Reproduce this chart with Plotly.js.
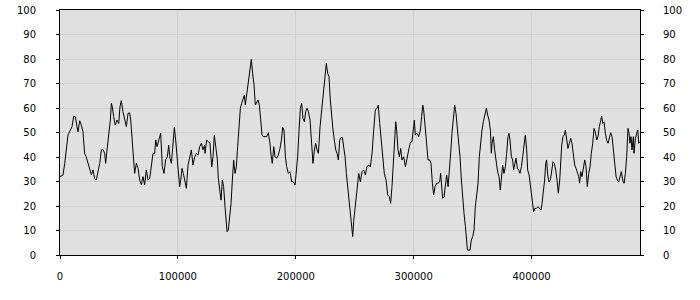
<!DOCTYPE html>
<html>
<head>
<meta charset="utf-8">
<script src="https://cdn.plot.ly/plotly-3.0.1.min.js"></script>
<style>html,body{margin:0;padding:0;background:#fff;}#chart{width:700px;height:300px;}</style>
</head>
<body>
<div id="chart"></div>
<script>
var xTicks = [0, 100000, 200000, 300000, 400000];
var yTicks = [0, 10, 20, 30, 40, 50, 60, 70, 80, 90, 100];

var xValues = [
0,2500,4000,5400,6800,8800,10200,11600,13000,14400,
15300,16700,18100,19500,20900,22300,23800,25200,26600,28000,
29400,30800,32200,33700,35100,36500,37900,38700,39900,41300,
42700,43600,44400,45500,46900,48400,49800,50900,52000,53400,
54900,56300,57700,59100,60000,61100,62200,63300,64800,66200,
67600,69000,70400,71800,73200,74700,76100,77500,78900,80300,
81200,82300,83700,85400,86800,88200,89600,91100,92200,93300,
94500,95600,97000,98100,99300,100700,101500,102400,103500,104600,
105800,107200,108600,110000,111400,112800,114300,115700,117100,118500,
119900,121300,122700,
123000,124400,125800,127200,128700,129800,130900,132100,133500,134300,
135700,136600,137700,138800,140000,140800,141700,142800,143900,145100,
146200,147300,148500,149600,150700,151800,153000,154100,155200,156400,
157200,158400,159800,160900,162300,163400,164600,165700,166800,168000,
169100,170200,171400,172500,173900,175300,176700,178100,179000,180100,
181300,182400,183800,185200,186600,187800,188900,190000,191200,192300,
193700,195100,196500,197900,199400,200500,201600,202800,203900,205000,
206100,207300,208400,209500,210700,212100,213500,214600,215800,216900,
218000,219200,220600,222000,223400,224800,225900,227100,228200,229300,
230500,231600,232700,233900,235000,236100,237300,238400,239500,240600,
241800,242900,244000,245200,246300,247400,248300,
249100,250500,251900,253400,254800,256200,257600,259000,260400,261800,
263300,264700,266100,267500,268900,270000,271200,272300,273700,275100,
276600,278000,279400,280500,281600,282800,283900,284800,285600,286700,
287900,289000,290100,291500,293000,294400,295800,297200,298600,300000,
300600,301400,302900,304300,305700,306800,307700,308500,309900,311100,
312200,313600,314700,315900,317000,318100,319300,320700,322100,322900,
323800,324600,325800,326900,328000,329200,330300,331400,332500,333700,
334800,335900,337100,338200,339300,340500,341600,342700,343900,344700,
345600,346700,347800,348900,350100,351200,352300,353500,354600,355700,
356900,358000,359100,360300,361700,362800,363900,365100,365900,366500,
367600,368700,369900,371000,
371600,372400,373500,374400,375500,376600,377800,378900,380000,380900,
381700,382900,384000,384800,385700,386800,388000,389100,390200,391400,
392500,393600,394700,395900,396700,397900,399000,400100,401000,401800,
402700,404100,405500,406900,408000,408900,410000,411100,412000,412800,
413700,414800,416000,417100,418200,419300,420500,421600,422700,423900,
424700,425600,426700,427800,428700,429800,430900,432100,433200,434300,
435500,436600,437700,438900,440000,440800,441700,442800,444000,445100,
446200,447300,448500,449600,450700,451900,453000,454100,455300,456400,
457500,458700,459500,460400,461500,462600,463700,464900,466000,467100,
468300,469400,470500,471700,472800,473900,475100,476200,477300,478500,
479600,480700,481800,482700,483500,484400,485200,486400,486900,488100,
489200,490100,490900,492000
];

var yValues = [
32,32.6,37.4,44,49,51,52.4,56.7,56.5,52.4,
50.3,54.8,53,50.3,41.5,40,37.4,34.7,32.7,34.7,
31.3,30.6,33.3,37.4,42.9,43.1,41.5,37.4,42.9,48.3,
55.1,61.9,60.5,56.5,53,55.1,53.7,60.5,63,58.5,
55.1,52.4,57.8,58,55.1,48.3,40.1,33.3,37.4,35.4,
30.6,28.6,32,28.6,34.7,30.6,31.3,37.4,41.5,41.5,
47,44.2,47,49.7,36,33.3,38.8,40.1,44.9,39.5,
37.4,42.9,52.1,47,40.1,32,27.9,30.6,35.4,33.3,
30.6,27.2,36.7,40.1,42.9,36.7,40.1,41.5,40.8,44.2,
45.6,42.9,44.9,
41.5,46.9,46.3,45.6,36,40.1,49,44.2,38.8,31.3,
25.2,22.4,30.6,27.9,19.7,13.6,9.5,10.2,14.3,21.1,
30.6,38.8,33.3,36,44.2,52.4,59.9,61.9,63.3,65.3,
61.2,66,70,74,79.9,74,69.4,61.2,62.6,63.3,
61.2,55.1,49,48.3,48.3,48.3,49.9,45.6,40.8,37.4,
44.2,40.1,39.5,40.8,43.5,46.9,52.1,51,40.1,36,
33.3,34,29.9,29.9,28.6,33.3,40.1,51,59.9,61.9,
55.8,54.4,58.5,59.9,58.5,55.1,46.9,37.4,42.9,45.6,
42.9,41.5,52.4,59.2,68.7,74.1,78.2,74.1,72.8,63.3,
55.1,51,46.9,42.9,41.5,38.8,46.9,48,48,44.9,
40.1,33.3,27.9,23.8,19.7,11.6,7.5,
13.6,21.1,26.5,33.3,29.9,34,34.7,32.7,36,36.7,
36,41.5,51,59.2,59.9,61.2,53.7,46.9,38.8,33.3,
30.6,24.5,23.8,21.1,27.9,38.8,51,54.4,51,42.9,
40.1,43.5,38.8,40.1,36,40.1,42.9,45.9,46.3,52.4,
55.1,49,49.7,48.3,51,56.5,61.2,59.2,51,46.9,
38.8,38.8,37.4,29.3,24.5,27.9,29.3,29.3,29.9,33.3,
27.9,23.1,23.8,29.3,32.7,27.9,33.3,41.5,49.7,56.5,
61.2,57.8,52.4,46.9,40.1,30.6,22.4,17,11.6,6.1,
2,2,2,6.1,7.5,10.2,19.7,24.5,29.3,40.1,
46.9,51,54.4,57.1,59.9,57.1,55.1,51,41.5,45.6,
48.3,42.9,37.4,34.7,
33.3,32,26.5,30.6,36.7,33.3,36,41.5,48.3,49.7,
46.9,40.1,38.8,34.7,37.4,39.5,35.4,34.7,33.3,36,
40.1,44.9,49,42.9,34.7,32.7,27.9,23.1,19.7,17.7,
19,19,19.7,19,18.4,21.1,25.9,30.6,37.4,38.8,
32.7,29.9,30.6,34.7,38.1,37.4,34.7,30.6,25.2,30.6,
37.4,44.9,48.3,49,51,46.3,43.5,45.6,47.6,45.6,
40.1,36.7,35.4,33.3,32,29.3,34,32,36.7,38.8,
36,27.9,33.3,36,41.5,45.6,51.7,50.3,46.9,48.3,
52.4,55.8,56.7,53.7,54.4,49.7,46.9,45.6,48.3,49.9,
48.3,42.9,35.4,32,30.6,29.9,32,34,30.6,29.3,
33.3,40.1,51.7,49.7,45.6,48.3,42.9,48.3,41.5,47.6,
49.7,51,45.6,46.3
];

var trace = {
  x: xValues, y: yValues, type: 'scatter', mode: 'lines',
  line: {color: '#000000', width: 1}, hoverinfo: 'skip'
};
// empty trace so the mirrored right-hand axis is drawn
var rightAxisHolder = {
  x: [], y: [], type: 'scatter', mode: 'lines', yaxis: 'y2', hoverinfo: 'skip'
};

var commonY = {
  range: [0, 100], autorange: false, tickvals: yTicks, ticktext: yTicks.map(String),
  ticks: 'outside', ticklen: 3, tickcolor: '#000', tickwidth: 1,
  showline: true, linecolor: '#000', linewidth: 1,
  zeroline: false, fixedrange: true,
  tickfont: {family: 'DejaVu Sans', size: 10, color: '#000'}
};

var layout = {
  width: 700, height: 300,
  margin: {l: 60, r: 60, t: 10, b: 45, pad: 0},
  paper_bgcolor: '#ffffff', plot_bgcolor: '#e0e0e0',
  showlegend: false,
  font: {family: 'DejaVu Sans', size: 10, color: '#000'},
  xaxis: {
    range: [0, 492000], autorange: false, tickvals: xTicks, ticktext: xTicks.map(String),
    ticks: 'outside', ticklen: 3, tickcolor: '#000', tickwidth: 1,
    showgrid: true, gridcolor: '#d0d0d0', gridwidth: 1,
    showline: true, linecolor: '#000', linewidth: 1, mirror: true,
    zeroline: false, fixedrange: true, ticklabelstandoff: 9,
    tickfont: {family: 'DejaVu Sans', size: 10, color: '#000'}
  },
  yaxis: Object.assign({}, commonY, {
    showgrid: true, gridcolor: '#d0d0d0', gridwidth: 1, ticklabelstandoff: 18
  }),
  yaxis2: Object.assign({}, commonY, {
    overlaying: 'y', side: 'right', showgrid: false, ticklabelstandoff: 17
  })
};

Plotly.newPlot('chart', [trace, rightAxisHolder], layout, {displayModeBar: false, staticPlot: true});
</script>
</body>
</html>
